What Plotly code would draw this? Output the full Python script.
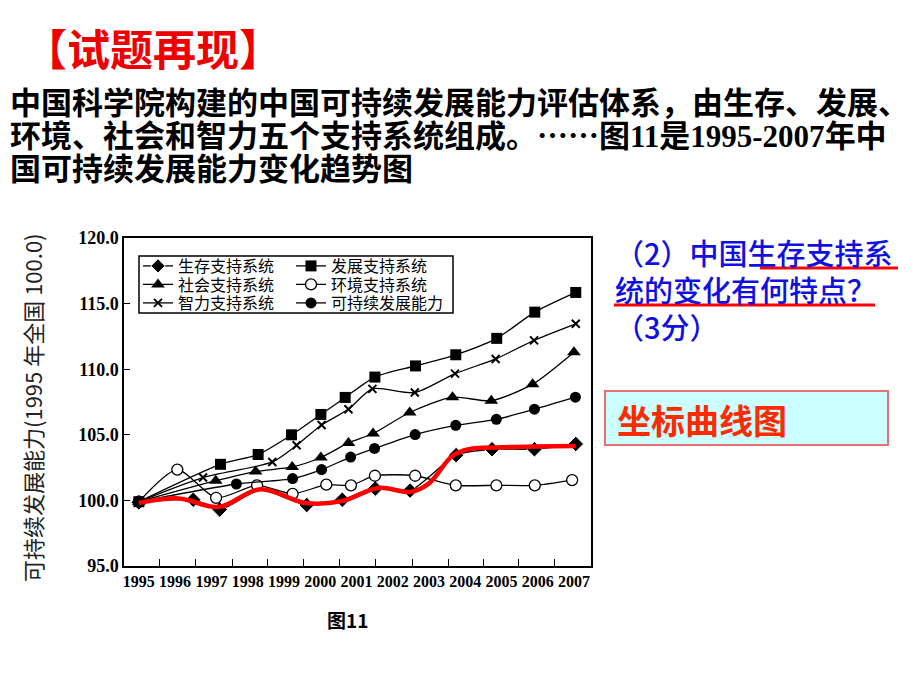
import plotly.graph_objects as go

# ---------------- data ----------------
years = list(range(1995, 2008))
year_labels = [str(y) for y in years]
y_ticks = [95, 100, 105, 110, 115, 120]
y_tick_labels = ["95.0", "100.0", "105.0", "110.0", "115.0", "120.0"]
minor_tick_years = [1995.57, 1996.57, 1997.57, 1998.56, 1999.55, 2000.54,
                    2001.54, 2002.54, 2003.53, 2004.50, 2005.48, 2006.47]

# survival series: the 1998 point lies under the red highlight (no visible marker)
survival_x = [1995, 1996.5, 1997.23, 1998.35, 1999.63, 2000.61, 2001.52, 2002.48,
              2003.75, 2004.74, 2005.91, 2007.05]
survival_y = [99.85, 100.05, 99.3, 100.8, 99.65, 100.05, 100.9, 100.75,
              103.45, 103.9, 103.9, 104.3]
survival_marker_shown = [1, 1, 1, 0, 1, 1, 1, 1, 1, 1, 1, 1]

develop_x = [1995, 1997.25, 1998.29, 1999.21, 2000.02, 2000.69, 2001.51,
             2002.63, 2003.74, 2004.87, 2005.92, 2007.05]
develop_y = [99.9, 102.75, 103.5, 105.0, 106.55, 107.85, 109.4,
             110.25, 111.1, 112.35, 114.35, 115.85]

social_x = [1995, 1997.12, 1998.22, 1999.23, 2000.02, 2000.78, 2001.46,
            2002.47, 2003.65, 2004.72, 2005.86, 2007.0]
social_y = [99.9, 101.5, 102.2, 102.55, 103.27, 104.38, 105.1,
            106.7, 107.87, 107.59, 108.86, 111.3]

environ_x = [1995, 1996.06, 1997.13, 1998.26, 1999.24, 2000.17, 2000.85,
             2001.51, 2002.62, 2003.74, 2004.86, 2005.92, 2006.95]
environ_y = [99.9, 102.35, 100.2, 101.15, 100.5, 101.2, 101.15,
             101.88, 101.88, 101.15, 101.15, 101.15, 101.55]

intel_x = [1995, 1996.77, 1998.68, 1999.35, 2000.04, 2000.78, 2001.44,
           2002.61, 2003.72, 2004.84, 2005.9, 2007.05]
intel_y = [99.9, 101.74, 102.93, 104.2, 105.75, 106.95, 108.5,
           108.22, 109.66, 110.78, 112.2, 113.46]

sustain_x = [1995, 1997.69, 1999.24, 2000.04, 2000.84, 2001.5, 2002.62,
             2003.74, 2004.86, 2005.91, 2007.04]
sustain_y = [99.9, 101.25, 101.66, 102.35, 103.3, 103.96, 105.02,
             105.72, 106.18, 106.95, 107.87]

highlight_x = [1995, 1996.1, 1997.2, 1998.35, 1999.6, 2000.6, 2001.6,
               2002.5, 2003.0, 2003.65, 2004.1, 2005.0, 2007.05]
highlight_y = [99.8, 100.15, 99.5, 100.85, 99.8, 99.95, 100.95,
               100.65, 101.3, 103.4, 103.9, 104.05, 104.15]

series_names = ["生存支持系统", "发展支持系统", "社会支持系统",
                "环境支持系统", "智力支持系统", "可持续发展能力"]

# ---------------- layout helpers ----------------
W, H = 920, 690
PL, PR, PT, PB = 124, 591, 238, 566


def px(x):
    return (x - PL) / (PR - PL)


def py(y):
    return (PB - y) / (PB - PT)


CJK = "Noto Sans CJK SC"
SERIF = "Liberation Serif"
LW = 1.3

fig = go.Figure()

styles = [
    (survival_x, survival_y,
     dict(symbol="diamond", size=[12 * s for s in survival_marker_shown],
          color="black", opacity=1, sizemode="diameter"),
     "legend"),
    (develop_x, develop_y, dict(symbol="square", size=11, color="black"), "legend4"),
    (social_x, social_y, dict(symbol="triangle-up", size=12, color="black"), "legend2"),
    (environ_x, environ_y, dict(symbol="circle", size=11, color="white",
                                line=dict(color="black", width=1.3)), "legend5"),
    (intel_x, intel_y, dict(symbol="x-thin", size=8, color="black",
                            line=dict(color="black", width=2)), "legend3"),
    (sustain_x, sustain_y, dict(symbol="circle", size=11, color="black"), "legend6"),
]

for name, (xs, ys, mk, lg) in zip(series_names, styles):
    fig.add_trace(go.Scatter(
        x=xs, y=ys, name=name, mode="lines+markers",
        line=dict(color="black", width=LW, shape="spline", smoothing=0.7),
        marker=mk, legend=lg, cliponaxis=False))

fig.add_trace(go.Scatter(
    x=highlight_x, y=highlight_y, mode="lines", showlegend=False,
    line=dict(color="#ff0000", width=4.5, shape="spline", smoothing=1.0)))

# legends: two columns, three rows
leg_font = dict(family=CJK, size=16, color="black")
rows_y = [266, 284.5, 303]
left_x, right_x = 138, 291
leg_pos = {
    "legend": (left_x, rows_y[0]), "legend2": (left_x, rows_y[1]),
    "legend3": (left_x, rows_y[2]), "legend4": (right_x, rows_y[0]),
    "legend5": (right_x, rows_y[1]), "legend6": (right_x, rows_y[2]),
}
leg_layout = {}
for k, (lx, ly) in leg_pos.items():
    leg_layout[k] = dict(x=px(lx), y=py(ly), xanchor="left", yanchor="middle",
                         bgcolor="rgba(0,0,0,0)", borderwidth=0, font=leg_font,
                         itemwidth=30, tracegroupgap=0)

shapes = [
    # legend frame
    dict(type="rect", xref="paper", yref="paper", x0=px(139), x1=px(453),
         y0=py(256), y1=py(313), line=dict(color="black", width=1.5)),
    # red underlines
    dict(type="line", xref="paper", yref="paper", x0=px(760), x1=px(898),
         y0=py(268), y1=py(268), line=dict(color="#ff0000", width=3)),
    dict(type="line", xref="paper", yref="paper", x0=px(614), x1=px(875),
         y0=py(305), y1=py(305), line=dict(color="#ff0000", width=3)),
    # cyan box
    dict(type="rect", xref="paper", yref="paper", x0=px(605), x1=px(888),
         y0=py(391), y1=py(445), fillcolor="#ccffff",
         line=dict(color="#e87070", width=2), layer="below"),
]

num = lambda s: '<span style="font-family:Liberation Serif">' + s + '</span>'

annotations = [
    dict(text="【试题再现】", x=px(22), y=py(47), xanchor="left", yanchor="middle",
         font=dict(family=CJK, size=43, color="#ee0000", weight="bold")),
    dict(text="中国科学院构建的中国可持续发展能力评估体系，由生存、发展、",
         x=px(8), y=py(100), xanchor="left", yanchor="middle",
         font=dict(family=CJK, size=31, color="black", weight="bold")),
    dict(text="环境、社会和智力五个支持系统组成。……图" + num("11") + "是"
         + num("1995-2007") + "年中",
         x=px(8), y=py(133), xanchor="left", yanchor="middle",
         font=dict(family=CJK, size=31, color="black", weight="bold")),
    dict(text="国可持续发展能力变化趋势图",
         x=px(8), y=py(166), xanchor="left", yanchor="middle",
         font=dict(family=CJK, size=31, color="black", weight="bold")),
    dict(text="（2）中国生存支持系", x=px(613), y=py(252), xanchor="left", yanchor="middle",
         font=dict(family=CJK, size=29, color="#1010e0", weight=500)),
    dict(text="统的变化有何特点？", x=px(613), y=py(289), xanchor="left", yanchor="middle",
         font=dict(family=CJK, size=29, color="#1010e0", weight=500)),
    dict(text="（3分）", x=px(613), y=py(326), xanchor="left", yanchor="middle",
         font=dict(family=CJK, size=29, color="#1010e0", weight=500)),
    dict(text="坐标曲线图", x=px(615), y=py(419), xanchor="left", yanchor="middle",
         font=dict(family=CJK, size=34, color="#ff2a00", weight="bold")),
    dict(text="图11", x=px(347), y=py(619), xanchor="center", yanchor="middle",
         font=dict(family=CJK, size=19, color="black", weight="bold")),
    dict(text="可持续发展能力(1995 年全国 100.0)", x=px(32), y=py(408),
         xanchor="center", yanchor="middle", textangle=-90,
         font=dict(family=CJK, size=22, color="#222222")),
]
for a in annotations:
    a.update(xref="paper", yref="paper", showarrow=False)

fig.update_layout(
    width=W, height=H,
    margin=dict(l=PL, r=W - PR, t=PT, b=H - PB, pad=0),
    paper_bgcolor="white", plot_bgcolor="white",
    shapes=shapes, annotations=annotations,
    **leg_layout,
    xaxis=dict(range=[1994.59, 2007.47], tickmode="array", tickvals=years,
               ticktext=year_labels, ticks="", showgrid=False, zeroline=False,
               showline=True, mirror=True, linecolor="black", linewidth=1.5,
               tickfont=dict(family=SERIF, size=16, color="black", weight="bold"),
               minor=dict(tickmode="array", tickvals=minor_tick_years, ticks="inside",
                          ticklen=7, tickwidth=1.3, tickcolor="black", showgrid=False)),
    yaxis=dict(range=[95, 120], tickmode="array", tickvals=y_ticks,
               ticktext=y_tick_labels, ticks="inside", ticklen=6, tickwidth=1.3,
               tickcolor="black", showgrid=False, zeroline=False,
               showline=True, mirror=True, linecolor="black", linewidth=1.5,
               tickfont=dict(family=SERIF, size=18, color="black", weight="bold")),
)

fig.write_html("out.html")
